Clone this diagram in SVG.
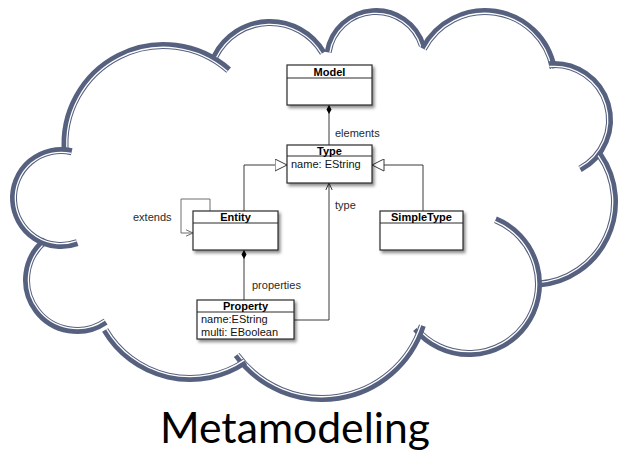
<svg xmlns="http://www.w3.org/2000/svg" width="620" height="454" viewBox="0 0 620 454">
  <defs>
    <style>
      .band { fill: none; stroke: #56607f; stroke-width: 7; }
      .gap { fill: none; stroke: #ffffff; stroke-width: 1.3; }
      .box { fill: #ffffff; stroke: #2b2b2b; stroke-width: 1.2; filter: url(#shadow); }
      .div { stroke: #2b2b2b; stroke-width: 1; }
      .cls { font-family: "Liberation Sans", Arial, sans-serif; font-size: 11px; font-weight: bold; text-anchor: middle; fill: #000; }
      .attr { font-family: "Liberation Sans", Arial, sans-serif; font-size: 11px; fill: #111; }
      .lbl { font-family: "Liberation Sans", Arial, sans-serif; font-size: 11px; fill: #2a2a2a; }
      .edge { fill: none; stroke: #3a3a3a; stroke-width: 1; }
      .self { fill: none; stroke: #6e6e6e; stroke-width: 1; }
      .title { font-family: Lato, "Open Sans", sans-serif; font-size: 42px; fill: #000; }
    </style>
    <filter id="shadow" x="-10%" y="-10%" width="130%" height="140%">
      <feDropShadow dx="2" dy="2.5" stdDeviation="1.6" flood-color="#000" flood-opacity="0.45"/>
    </filter>
    <marker id="inherit" viewBox="0 0 13 13" refX="12.5" refY="6.5" markerWidth="13" markerHeight="13" markerUnits="userSpaceOnUse" orient="auto">
      <path d="M0.5,0.5 L12.5,6.5 L0.5,12.5 Z" fill="#fff" stroke="#3a3a3a" stroke-width="1"/>
    </marker>
    <marker id="diamond" viewBox="0 0 9 6" refX="0" refY="3" markerWidth="9" markerHeight="6" markerUnits="userSpaceOnUse" orient="auto">
      <path d="M0,3 L4.5,0.5 L9,3 L4.5,5.5 Z" fill="#000"/>
    </marker>
    <marker id="open" viewBox="0 0 8 8" refX="7.5" refY="4" markerWidth="8" markerHeight="8" markerUnits="userSpaceOnUse" orient="auto">
      <path d="M0.5,0.8 L7.5,4 L0.5,7.2" fill="none" stroke="#3a3a3a" stroke-width="1"/>
    </marker>
    <marker id="openGray" viewBox="0 0 8 8" refX="7.5" refY="4" markerWidth="8" markerHeight="8" markerUnits="userSpaceOnUse" orient="auto">
      <path d="M0.5,0.8 L7.5,4 L0.5,7.2" fill="none" stroke="#6e6e6e" stroke-width="1"/>
    </marker>
  </defs>

  <rect width="620" height="454" fill="#ffffff"/>

  <!-- cloud outline: one double-lined arc per lobe -->
  <g id="cloud">
    <path class="band" d="M65.45,153.44 A98.5,98.5 0 0 1 228.64,70.11"/>
    <path class="gap" d="M67.25,153.26 A96.7,96.7 0 0 1 227.45,71.47"/>
    <path class="band" d="M215.01,56.46 A61.5,61.5 0 0 1 323.04,52.88"/>
    <path class="gap" d="M216.62,57.27 A59.7,59.7 0 0 1 321.49,53.79"/>
    <path class="band" d="M328.10,52.41 A48.5,48.5 0 0 1 422.38,45.82"/>
    <path class="gap" d="M329.87,52.70 A46.7,46.7 0 0 1 420.66,46.35"/>
    <path class="band" d="M423.41,48.80 A69.5,69.5 0 0 1 553.36,68.46"/>
    <path class="gap" d="M425.00,49.63 A67.7,67.7 0 0 1 551.59,68.78"/>
    <path class="band" d="M549.16,64.71 A55.5,55.5 0 0 1 580.06,169.00"/>
    <path class="gap" d="M549.32,66.50 A53.7,53.7 0 0 1 579.21,167.41"/>
    <path class="band" d="M599.58,154.68 A82.5,82.5 0 0 1 537.76,284.30"/>
    <path class="gap" d="M598.11,155.71 A80.7,80.7 0 0 1 537.63,282.51"/>
    <path class="band" d="M495.49,219.75 A69.5,69.5 0 1 1 415.76,328.67"/>
    <path class="gap" d="M494.80,221.41 A67.7,67.7 0 1 1 417.14,327.52"/>
    <path class="band" d="M422.34,325.60 A105.5,105.5 0 0 1 236.65,355.01"/>
    <path class="gap" d="M420.63,325.04 A103.7,103.7 0 0 1 238.11,353.95"/>
    <path class="band" d="M245.08,361.66 A98.5,98.5 0 0 1 105.13,329.99"/>
    <path class="gap" d="M244.07,360.16 A96.7,96.7 0 0 1 106.68,329.08"/>
    <path class="band" d="M105.60,321.62 A50.5,50.5 0 0 1 45.43,240.59"/>
    <path class="gap" d="M104.58,320.13 A48.7,48.7 0 0 1 46.55,242.00"/>
    <path class="band" d="M77.25,242.64 A47.5,47.5 0 1 1 71.69,151.72"/>
    <path class="gap" d="M76.63,240.94 A45.7,45.7 0 1 1 71.28,153.47"/>
  </g>

  <!-- associations and generalizations -->
  <g id="connectors">
    <path class="edge" d="M329,105 V145" marker-start="url(#diamond)"/>
    <text class="lbl" x="335" y="137">elements</text>
    <path class="edge" d="M244,211 V165 H287" marker-end="url(#inherit)"/>
    <path class="edge" d="M423,211 V165 H372" marker-end="url(#inherit)"/>
    <path class="self" d="M210,211 V199 H181 V233 H193" marker-end="url(#openGray)"/>
    <text class="lbl" x="133" y="221">extends</text>
    <path class="edge" d="M244,250 V300" marker-start="url(#diamond)"/>
    <text class="lbl" x="252" y="289">properties</text>
    <path class="edge" d="M294,320 H329 V183" marker-end="url(#open)"/>
    <text class="lbl" x="335" y="209">type</text>
  </g>

  <g id="Model">
    <rect class="box" x="287" y="65" width="85" height="40"/>
    <line class="div" x1="287" y1="78" x2="372" y2="78"/>
    <text class="cls" x="329.5" y="75.5">Model</text>
  </g>

  <g id="Type">
    <rect class="box" x="287" y="145" width="85" height="38"/>
    <line class="div" x1="287" y1="156" x2="372" y2="156"/>
    <text class="cls" x="329.5" y="154.5">Type</text>
    <text class="attr" x="291" y="168">name: EString</text>
  </g>

  <g id="Entity">
    <rect class="box" x="193" y="211" width="85" height="39"/>
    <line class="div" x1="193" y1="223" x2="278" y2="223"/>
    <text class="cls" x="235.5" y="221">Entity</text>
  </g>

  <g id="SimpleType">
    <rect class="box" x="380" y="211" width="83" height="39"/>
    <line class="div" x1="380" y1="223" x2="463" y2="223"/>
    <text class="cls" x="421.5" y="221">SimpleType</text>
  </g>

  <g id="Property">
    <rect class="box" x="197" y="300" width="97" height="39"/>
    <line class="div" x1="197" y1="312" x2="294" y2="312"/>
    <text class="cls" x="245.5" y="310">Property</text>
    <text class="attr" x="201" y="323">name:EString</text>
    <text class="attr" x="201" y="336">multi: EBoolean</text>
  </g>

  <text id="title" class="title" x="160" y="443" textLength="270" lengthAdjust="spacingAndGlyphs">Metamodeling</text>
</svg>
